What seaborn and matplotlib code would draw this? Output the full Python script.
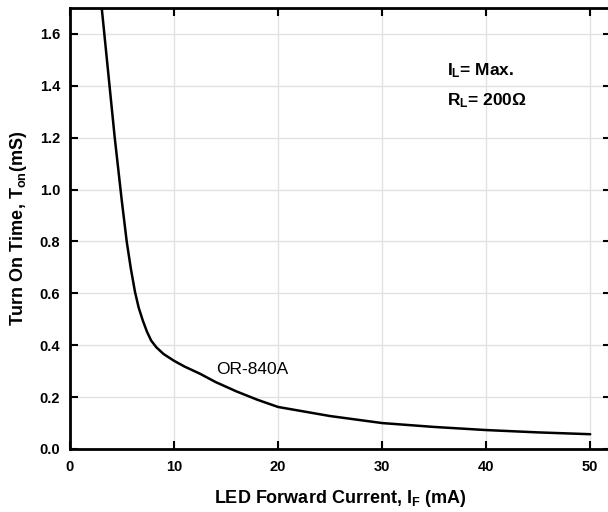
import matplotlib
matplotlib.use("Agg")
import matplotlib.pyplot as plt
import seaborn as sns
import pandas as pd

# Data
current_ma = [3.0, 3.3, 3.8, 4.3, 4.97, 5.45, 5.85, 6.25, 6.6, 7.0, 7.4, 7.8, 8.3, 9.0, 10.0, 11.0,
              12.5, 14.0, 16.0, 18.0, 20.0, 25.0, 30.0, 35.0, 40.0, 45.0, 50.0]
ton_ms = [1.72, 1.60, 1.40, 1.20, 0.96, 0.80, 0.695, 0.605, 0.545, 0.495, 0.452, 0.418, 0.392,
          0.366, 0.340, 0.318, 0.29, 0.258, 0.222, 0.19, 0.162, 0.127, 0.10, 0.085, 0.073,
          0.064, 0.057]
x_ticks = [0, 10, 20, 30, 40, 50]
y_ticks = [0.0, 0.2, 0.4, 0.6, 0.8, 1.0, 1.2, 1.4, 1.6]

df = pd.DataFrame({"I_F": current_ma, "T_on": ton_ms})

sns.set_theme(style="ticks")
plt.rcParams['font.family'] = ['Liberation Sans', 'DejaVu Sans']
plt.rcParams['mathtext.fontset'] = 'custom'
plt.rcParams['mathtext.rm'] = 'Liberation Sans'
plt.rcParams['mathtext.bf'] = 'Liberation Sans:bold'
plt.rcParams['mathtext.it'] = 'Liberation Sans:italic'
plt.rcParams['text.color'] = 'black'
plt.rcParams['axes.labelcolor'] = 'black'
plt.rcParams['xtick.color'] = 'black'
plt.rcParams['ytick.color'] = 'black'

fig = plt.figure(figsize=(6.08, 5.12), dpi=100)
ax = fig.add_axes([70/608, 1 - 449/512, 541/608, 441/512])

sns.lineplot(data=df, x="I_F", y="T_on", ax=ax, color="black", linewidth=1.8,
             sort=False, estimator=None)

ax.set_xlim(0, 52)
ax.set_ylim(0, 1.7)
ax.set_xticks(x_ticks)
ax.set_yticks(y_ticks)
ax.set_xticklabels([str(v) for v in x_ticks], fontweight="bold", fontsize=10.5)
ax.set_yticklabels([f"{v:.1f}" for v in y_ticks], fontweight="bold", fontsize=10.5)
ax.grid(True, color="#e2e2e2", linewidth=1.0)
ax.tick_params(axis="both", direction="in", length=6, width=1.5, top=True, right=True, colors="black")
ax.tick_params(axis="x", pad=8)
ax.tick_params(axis="y", pad=7)
for s in ax.spines.values():
    s.set_linewidth(2.0)
    s.set_color("black")

ax.set_xlabel(r"LED Forward Current, I$_{\mathbf{F}}$ (mA)", fontsize=13, fontweight="bold", labelpad=10)
ax.set_ylabel(r"Turn On Time, T$_{\mathbf{on}}$(mS)", fontsize=13, fontweight="bold", labelpad=8)

ax.text(14.0, 0.29, "OR-840A", fontsize=12.5, ha="left", va="baseline")
ax.text(36.2, 1.44, r"I$_{\mathbf{L}}$= Max.", fontsize=12.5, fontweight="bold", ha="left", va="baseline")
ax.text(36.2, 1.325, r"R$_{\mathbf{L}}$= 200Ω", fontsize=12.5, fontweight="bold", ha="left", va="baseline")

fig.savefig("out.png", dpi=100)
